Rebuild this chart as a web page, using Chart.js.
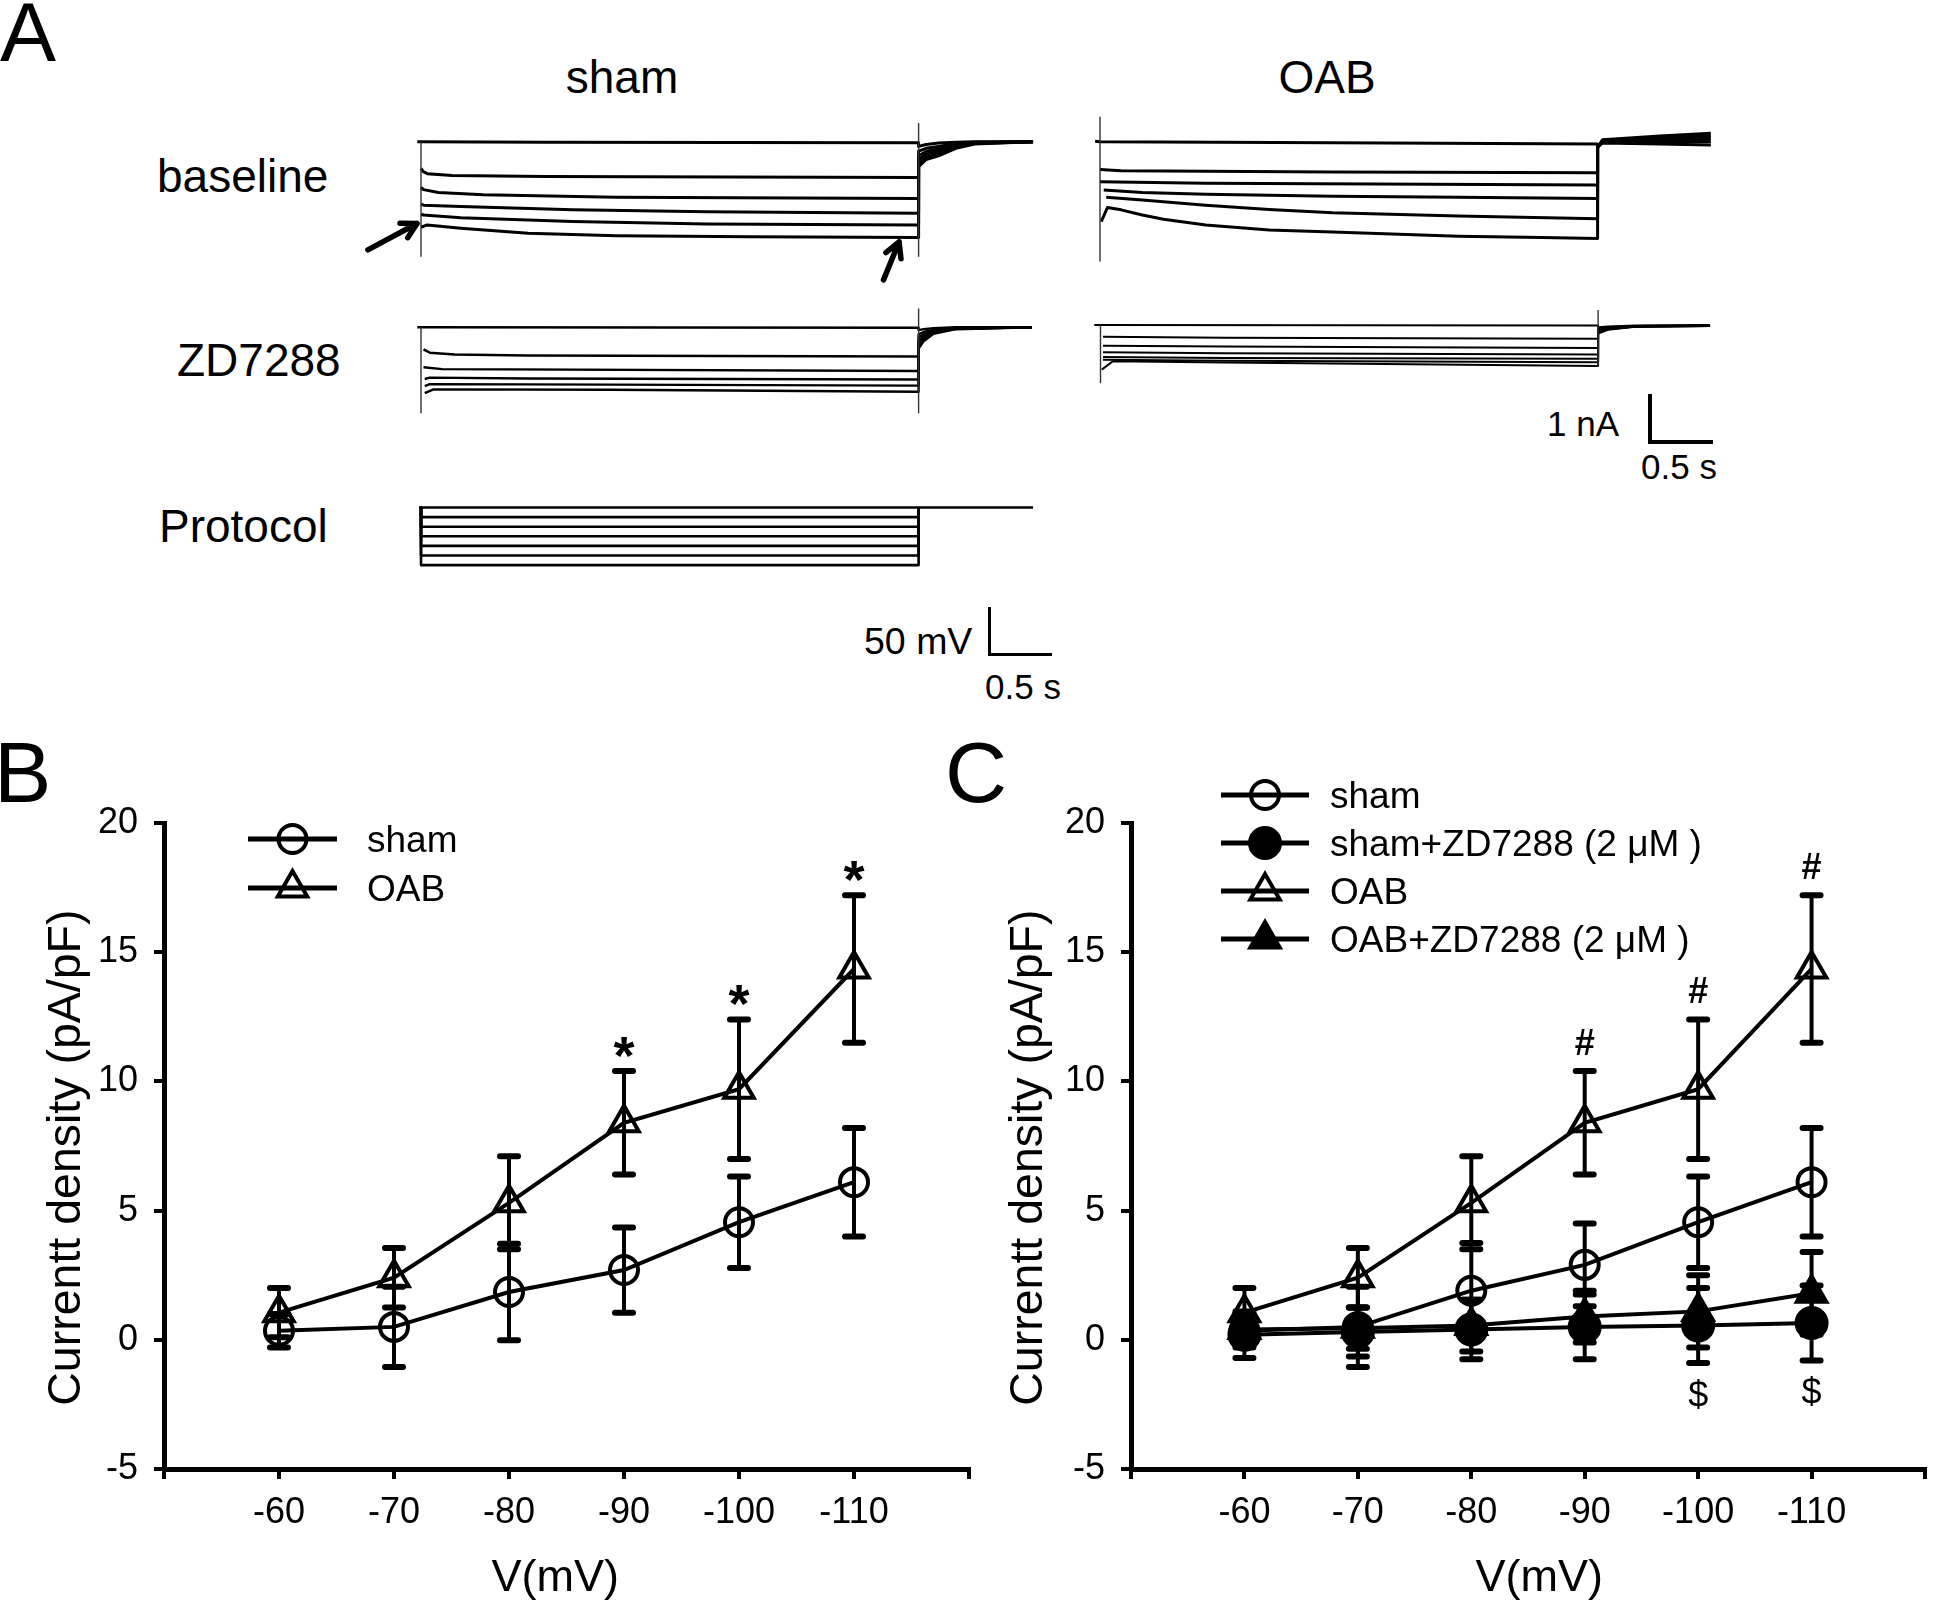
<!DOCTYPE html>
<html><head><meta charset="utf-8">
<script src="https://cdn.jsdelivr.net/npm/chart.js@4.4.1/dist/chart.umd.min.js"></script>
<style>
html,body{margin:0;padding:0;background:#fff;}
#fig{position:relative;width:1946px;height:1603px;overflow:hidden;background:#fff;font-family:'Liberation Sans',Arial,Helvetica,sans-serif;color:#000;}
canvas{position:absolute;}
.lbl{position:absolute;white-space:nowrap;line-height:1;}
.c{transform:translateX(-50%);}
.bar{position:absolute;box-sizing:border-box;border-left:4px solid #000;border-bottom:4px solid #000;}
</style></head><body>
<div id="fig">
  <div class="lbl" style="left:0px;top:-10px;font-size:84px">A</div>
  <div class="lbl" style="left:-6px;top:729px;font-size:86px">B</div>
  <div class="lbl" style="left:945px;top:729px;font-size:86px">C</div>
  <div class="lbl c" style="left:622px;top:54px;font-size:46px">sham</div>
  <div class="lbl c" style="left:1327px;top:54px;font-size:46px">OAB</div>
  <div class="lbl" style="left:157px;top:153px;font-size:46px">baseline</div>
  <div class="lbl" style="left:177px;top:337px;font-size:46px">ZD7288</div>
  <div class="lbl" style="left:159px;top:503px;font-size:46px">Protocol</div>
  <div class="lbl" style="left:1547px;top:406px;font-size:35px">1 nA</div>
  <div class="lbl" style="left:1641px;top:449px;font-size:35px">0.5 s</div>
  <div class="lbl" style="left:864px;top:623px;font-size:37.5px">50 mV</div>
  <div class="lbl" style="left:985px;top:669px;font-size:35px">0.5 s</div>
  <div class="bar" style="left:1648px;top:394px;width:65px;height:50px"></div>
  <div class="bar" style="left:988px;top:607px;width:64px;height:49px;border-left-width:3px;border-bottom-width:3px"></div>

  <canvas id="cShamBase"></canvas>
  <canvas id="cOabBase"></canvas>
  <canvas id="cShamZd"></canvas>
  <canvas id="cOabZd"></canvas>
  <canvas id="cProtocol"></canvas>
  <canvas id="cB"></canvas>
  <canvas id="cC"></canvas>
</div>
<script>
// ================= DATA =================
// Panels B / C : current density (pA/pF) vs step voltage (mV)
const voltages     = [-60, -70, -80, -90, -100, -110];
const xTickValues  = [-50, -60, -70, -80, -90, -100, -110, -120];
const xTickLabels  = ['', '-60', '-70', '-80', '-90', '-100', '-110', ''];
const yTickValues  = [-5, 0, 5, 10, 15, 20];
const yTickLabels  = ['-5', '0', '5', '10', '15', '20'];

const shamMeanB = [0.35, 0.5, 1.85, 2.7, 4.55, 6.1];
const shamSemB  = [0.65, 1.55, 1.87, 1.65, 1.77, 2.1];
const oabMeanB  = [1.05, 2.4, 5.3, 8.4, 9.7, 14.35];
const oabSemB   = [0.95, 1.15, 1.8, 2.0, 2.7, 2.85];
const sigB      = ['', '', '', '*', '*', '*'];

const shamMeanC   = [0.35, 0.5, 1.9, 2.9, 4.55, 6.1];
const shamSemC    = [0.65, 1.55, 1.85, 1.6, 1.77, 2.1];
const shamZdMeanC = [0.2, 0.3, 0.4, 0.5, 0.55, 0.65];
const shamZdSemC  = [0.9, 0.95, 1.15, 1.25, 1.45, 1.45];
const oabMeanC    = [1.05, 2.4, 5.3, 8.4, 9.7, 14.35];
const oabSemC     = [0.95, 1.15, 1.8, 2.0, 2.7, 2.85];
const oabZdMeanC  = [0.4, 0.45, 0.55, 0.9, 1.1, 1.8];
const oabZdSemC   = [0.5, 0.8, 1.0, 1.0, 1.4, 1.6];
const sigCTop     = ['', '', '', '#', '#', '#'];
const sigCBottom  = ['', '', '', '', '$', '$'];

// Panel A : current traces, [time (s) from step onset, current (nA) re. holding]
const shamBaseTrace1 = [[-0.03,0],[1.0,-0.01],[4.0,-0.02],[4.0,-0.1],[4.06,-0.06],[4.16,-0.03],[4.3,-0.01],[4.45,0],[4.92,0]];
const shamBaseTrace2 = [[0,-0.57],[0.02,-0.64],[0.05,-0.68],[0.25,-0.72],[1.0,-0.74],[4.0,-0.76],[4.0,-0.2],[4.06,-0.14],[4.16,-0.1],[4.3,-0.04],[4.45,-0.01],[4.92,0]];
const shamBaseTrace3 = [[0,-0.97],[0.02,-1.02],[0.14,-1.08],[0.5,-1.13],[1.57,-1.18],[4.0,-1.21],[4.0,-0.3],[4.06,-0.21],[4.16,-0.15],[4.3,-0.07],[4.45,-0.02],[4.92,0]];
const shamBaseTrace4 = [[0,-1.33],[0.02,-1.35],[0.32,-1.38],[1.22,-1.45],[2.3,-1.49],[4.0,-1.52],[4.0,-0.38],[4.06,-0.27],[4.16,-0.2],[4.3,-0.1],[4.45,-0.03],[4.92,0]];
const shamBaseTrace5 = [[0,-1.54],[0.02,-1.56],[0.32,-1.62],[1.22,-1.70],[2.3,-1.75],[4.0,-1.77],[4.0,-0.46],[4.06,-0.33],[4.16,-0.25],[4.3,-0.12],[4.45,-0.04],[4.92,0]];
const shamBaseTrace6 = [[0,-1.82],[0.05,-1.77],[0.32,-1.84],[0.86,-1.95],[1.57,-2.0],[2.65,-2.02],[4.0,-2.04],[4.0,-0.53],[4.06,-0.38],[4.16,-0.3],[4.3,-0.14],[4.45,-0.05],[4.92,0]];
const shamBaseTransients = [[[0,0],[0,-2.45]], [[4.0,0.4],[4.0,-2.45]]];
const shamBaseArrows = [{from:[-0.427,-2.30], to:[-0.032,-1.74]}, {from:[3.718,-2.94], to:[3.843,-2.13]}];

const oabBaseTrace1 = [[-0.04,0.01],[0,0],[1.87,-0.02],[4.0,-0.05],[4.0,-0.1],[4.04,-0.03],[4.5,-0.05],[4.91,-0.07]];
const oabBaseTrace2 = [[0,-0.59],[0.17,-0.62],[1.87,-0.645],[4.0,-0.66],[4.0,-0.12],[4.04,-0.01],[4.5,0.0],[4.91,0.0]];
const oabBaseTrace3 = [[0,-0.85],[0.85,-0.885],[4.0,-0.92],[4.0,-0.12],[4.04,0.01],[4.5,0.03],[4.91,0.05]];
const oabBaseTrace4 = [[0.03,-1.03],[0.34,-1.08],[0.85,-1.12],[1.87,-1.16],[2.88,-1.18],[4.0,-1.21],[4.0,-0.12],[4.04,0.02],[4.5,0.06],[4.91,0.09]];
const oabBaseTrace5 = [[0.05,-1.18],[0.34,-1.24],[0.85,-1.35],[1.36,-1.44],[1.87,-1.51],[2.88,-1.58],[4.0,-1.64],[4.0,-0.12],[4.04,0.03],[4.5,0.09],[4.91,0.13]];
const oabBaseTrace6 = [[0.01,-1.7],[0.06,-1.40],[0.17,-1.45],[0.34,-1.56],[0.51,-1.65],[0.85,-1.77],[1.36,-1.88],[1.87,-1.92],[2.88,-2.01],[3.55,-2.04],[4.0,-2.06],[4.0,-0.12],[4.04,0.04],[4.5,0.12],[4.91,0.18]];
const oabBaseTransients = [[[0,0.53],[0,-2.55]]];

const shamZdTrace1 = [[-0.03,0],[4.0,-0.01],[4.0,-0.06],[4.04,-0.04],[4.12,-0.02],[4.3,0],[4.91,0]];
const shamZdTrace2 = [[0.02,-0.47],[0.07,-0.54],[0.27,-0.58],[0.85,-0.60],[4.0,-0.62],[4.0,-0.15],[4.04,-0.1],[4.12,-0.05],[4.3,-0.01],[4.91,0]];
const shamZdTrace3 = [[0.02,-0.85],[0.17,-0.89],[4.0,-0.93],[4.0,-0.22],[4.04,-0.15],[4.12,-0.08],[4.3,-0.02],[4.91,0]];
const shamZdTrace4 = [[0.03,-1.1],[0.07,-1.07],[0.85,-1.09],[4.0,-1.11],[4.0,-0.3],[4.04,-0.2],[4.12,-0.1],[4.3,-0.03],[4.91,0]];
const shamZdTrace5 = [[0.03,-1.25],[0.07,-1.21],[1.52,-1.22],[4.0,-1.24],[4.0,-0.38],[4.04,-0.25],[4.12,-0.12],[4.3,-0.03],[4.91,0]];
const shamZdTrace6 = [[0.03,-1.40],[0.1,-1.32],[1.52,-1.33],[4.0,-1.37],[4.0,-0.45],[4.04,-0.3],[4.12,-0.14],[4.3,-0.04],[4.91,0]];
const shamZdTransients = [[[0,0],[0,-1.83]], [[4.0,0.4],[4.0,-1.83]]];

const oabZdTrace1 = [[-0.05,0],[4.0,-0.01],[4.0,-0.05],[4.08,-0.03],[4.3,-0.01],[4.9,0]];
const oabZdTrace2 = [[0.02,-0.25],[1.0,-0.27],[4.0,-0.29],[4.0,-0.08],[4.08,-0.05],[4.3,-0.02],[4.9,-0.01]];
const oabZdTrace3 = [[0.02,-0.44],[1.0,-0.46],[4.0,-0.49],[4.0,-0.1],[4.08,-0.06],[4.3,-0.02],[4.9,-0.01]];
const oabZdTrace4 = [[0.02,-0.58],[1.0,-0.6],[4.0,-0.63],[4.0,-0.12],[4.08,-0.07],[4.3,-0.03],[4.9,-0.01]];
const oabZdTrace5 = [[0.02,-0.68],[1.0,-0.7],[4.0,-0.72],[4.0,-0.14],[4.08,-0.08],[4.3,-0.03],[4.9,-0.02]];
const oabZdTrace6 = [[0.02,-0.74],[1.0,-0.76],[4.0,-0.79],[4.0,-0.16],[4.08,-0.09],[4.3,-0.03],[4.9,-0.02]];
const oabZdTrace7 = [[0.01,-0.95],[0.1,-0.77],[1.0,-0.8],[4.0,-0.87],[4.0,-0.18],[4.08,-0.1],[4.3,-0.04],[4.9,-0.02]];
const oabZdTransients = [[[0,0],[0,-1.24]], [[4.0,0.32],[4.0,-0.89]]];

// Protocol (mV, s)
const holdingMV   = -50;
const stepMV      = [-60, -70, -80, -90, -100, -110];
const stepEndS    = 4.0;
const sweepStartS = -0.016;
const sweepEndS   = 4.92;

// ================= DRAWING =================
const FONT = "'Liberation Sans', Arial, Helvetica, sans-serif";
Chart.defaults.font.family = FONT;
Chart.defaults.color = '#000';

function drawMarker(ctx, style, r, x, y) {
  ctx.beginPath();
  if (style === 'triangle') {
    let a = 0;
    ctx.moveTo(x + Math.sin(a) * r, y - Math.cos(a) * r);
    a += 2 * Math.PI / 3;
    ctx.lineTo(x + Math.sin(a) * r, y - Math.cos(a) * r);
    a += 2 * Math.PI / 3;
    ctx.lineTo(x + Math.sin(a) * r, y - Math.cos(a) * r);
    ctx.closePath();
  } else {
    ctx.arc(x, y, r, 0, Math.PI * 2);
    ctx.closePath();
  }
}

const arrowPlugin = {
  id: 'arrows',
  afterDatasetsDraw(chart) {
    const arrows = chart.options.plugins.arrows && chart.options.plugins.arrows.list;
    if (!arrows) return;
    const {ctx, scales: {x, y}} = chart;
    ctx.save();
    ctx.strokeStyle = '#000';
    ctx.lineWidth = 5.5;
    ctx.lineCap = 'round';
    ctx.lineJoin = 'round';
    arrows.forEach(a => {
      const x1 = x.getPixelForValue(a.from[0]), y1 = y.getPixelForValue(a.from[1]);
      const x2 = x.getPixelForValue(a.to[0]),   y2 = y.getPixelForValue(a.to[1]);
      const ang = Math.atan2(y2 - y1, x2 - x1);
      const hl = 17, hw = 0.5;
      ctx.beginPath();
      ctx.moveTo(x1, y1); ctx.lineTo(x2, y2);
      ctx.moveTo(x2 - hl * Math.cos(ang - hw), y2 - hl * Math.sin(ang - hw));
      ctx.lineTo(x2, y2);
      ctx.lineTo(x2 - hl * Math.cos(ang + hw), y2 - hl * Math.sin(ang + hw));
      ctx.stroke();
    });
    ctx.restore();
  }
};

function traceBlock(b) {
  const cv = document.getElementById(b.id);
  cv.width = b.W; cv.height = b.H;
  cv.style.left = b.L + 'px'; cv.style.top = b.T + 'px';
  const xMin = (b.L - b.x0) / b.ppuX;
  const xMax = (b.L + b.W - b.x0) / b.ppuX;
  const yMax = b.yRef + (b.y0 - b.T) / b.ppuY;
  const yMin = b.yRef - (b.T + b.H - b.y0) / b.ppuY;
  const datasets = [];
  (b.transients || []).forEach(t => datasets.push({
    data: t.map(([x, y]) => ({x, y})), borderColor: '#333', borderWidth: 1.4,
    pointRadius: 0, tension: 0, fill: false
  }));
  b.traces.forEach(tr => datasets.push({
    data: tr.map(([x, y]) => ({x, y})), borderColor: '#000', borderWidth: b.lw,
    borderJoinStyle: 'round', pointRadius: 0, tension: 0, fill: false
  }));
  new Chart(cv, {
    type: 'line',
    data: {datasets},
    options: {
      responsive: false, animation: false, events: [],
      layout: {padding: 0},
      plugins: {legend: {display: false}, tooltip: {enabled: false}, arrows: {list: b.arrows || null}},
      scales: {
        x: {type: 'linear', display: false, min: xMin, max: xMax},
        y: {type: 'linear', display: false, min: yMin, max: yMax}
      }
    },
    plugins: [arrowPlugin]
  });
}

const PPU_S = 124.4, PPU_NA = 47;
traceBlock({id: 'cShamBase', L: 340, T: 108, W: 720, H: 185, x0: 421, y0: 141.7, yRef: 0, ppuX: PPU_S, ppuY: PPU_NA, lw: 3.0,
  traces: [shamBaseTrace1, shamBaseTrace2, shamBaseTrace3, shamBaseTrace4, shamBaseTrace5, shamBaseTrace6],
  transients: shamBaseTransients, arrows: shamBaseArrows});
traceBlock({id: 'cOabBase', L: 1080, T: 105, W: 650, H: 170, x0: 1100, y0: 141.7, yRef: 0, ppuX: PPU_S, ppuY: PPU_NA, lw: 3.0,
  traces: [oabBaseTrace1, oabBaseTrace2, oabBaseTrace3, oabBaseTrace4, oabBaseTrace5, oabBaseTrace6],
  transients: oabBaseTransients});
traceBlock({id: 'cShamZd', L: 400, T: 300, W: 650, H: 125, x0: 421, y0: 327.3, yRef: 0, ppuX: PPU_S, ppuY: PPU_NA, lw: 2.4,
  traces: [shamZdTrace1, shamZdTrace2, shamZdTrace3, shamZdTrace4, shamZdTrace5, shamZdTrace6],
  transients: shamZdTransients});
traceBlock({id: 'cOabZd', L: 1080, T: 300, W: 650, H: 90, x0: 1100.5, y0: 325, yRef: 0, ppuX: PPU_S, ppuY: PPU_NA, lw: 2.0,
  traces: [oabZdTrace1, oabZdTrace2, oabZdTrace3, oabZdTrace4, oabZdTrace5, oabZdTrace6, oabZdTrace7],
  transients: oabZdTransients});

// protocol: holding line + one rectangle per voltage step
const protocolTraces = [[[sweepStartS, holdingMV], [sweepEndS, holdingMV]]].concat(
  stepMV.map(v => [[0, holdingMV], [0, v], [stepEndS, v], [stepEndS, holdingMV]]));
traceBlock({id: 'cProtocol', L: 400, T: 495, W: 650, H: 80, x0: 421, y0: 507.5, yRef: holdingMV, ppuX: PPU_S, ppuY: 0.96, lw: 2.6,
  traces: protocolTraces});

// ---------- I-V charts ----------
const errorBarPlugin = {
  id: 'errorBars',
  beforeDatasetsDraw(chart) {
    const {ctx, scales: {x, y}} = chart;
    ctx.save();
    ctx.strokeStyle = '#000';
    chart.data.datasets.forEach(ds => {
      if (!ds.errors) return;
      ds.data.forEach((p, i) => {
        const e = ds.errors[i];
        const px = x.getPixelForValue(p.x);
        const yt = y.getPixelForValue(p.y + e), yb = y.getPixelForValue(p.y - e);
        ctx.lineWidth = 4; ctx.lineCap = 'butt';
        ctx.beginPath(); ctx.moveTo(px, yt); ctx.lineTo(px, yb); ctx.stroke();
        ctx.lineWidth = 6; ctx.lineCap = 'round';
        ctx.beginPath();
        ctx.moveTo(px - 9, yt); ctx.lineTo(px + 9, yt);
        ctx.moveTo(px - 9, yb); ctx.lineTo(px + 9, yb);
        ctx.stroke();
      });
    });
    ctx.restore();
  }
};

const keyPlugin = {
  id: 'keyLegend',
  afterDraw(chart) {
    const o = chart.options.plugins.keyLegend;
    if (!o) return;
    const ctx = chart.ctx;
    ctx.save();
    chart.data.datasets.forEach((ds, i) => {
      const yy = o.rows[i];
      ctx.strokeStyle = '#000'; ctx.lineWidth = 5; ctx.lineCap = 'butt';
      ctx.beginPath(); ctx.moveTo(o.x1, yy); ctx.lineTo(o.x2, yy); ctx.stroke();
      ctx.lineWidth = 4;
      ctx.fillStyle = ds.pointBackgroundColor;
      drawMarker(ctx, ds.pointStyle, ds.pointRadius, (o.x1 + o.x2) / 2, yy);
      ctx.fill(); ctx.stroke();
      ctx.fillStyle = '#000';
      ctx.font = '37px ' + FONT;
      ctx.textAlign = 'left'; ctx.textBaseline = 'alphabetic';
      ctx.fillText(ds.label, o.textX, yy + 13);
    });
    ctx.restore();
  }
};

const sigPlugin = {
  id: 'sigMarks',
  afterDraw(chart) {
    const list = chart.options.plugins.sigMarks && chart.options.plugins.sigMarks.list;
    if (!list) return;
    const {ctx, scales: {x, y}} = chart;
    ctx.save();
    ctx.fillStyle = '#000'; ctx.textAlign = 'center'; ctx.textBaseline = 'alphabetic';
    list.forEach(m => {
      const ds = chart.data.datasets.find(d => d.label === m.ref);
      m.marks.forEach((s, i) => {
        if (!s) return;
        const p = ds.data[i];
        const v = m.side === 'top' ? p.y + ds.errors[i] : p.y - ds.errors[i];
        ctx.font = m.font;
        ctx.fillText(s, x.getPixelForValue(p.x), y.getPixelForValue(v) + m.dy);
      });
    });
    ctx.restore();
  }
};

function series(label, means, errs, style, filled) {
  return {
    label,
    data: voltages.map((v, i) => ({x: v, y: means[i]})),
    errors: errs,
    borderColor: '#000', borderWidth: 4, tension: 0, fill: false, clip: false,
    pointStyle: style, pointRadius: style === 'triangle' ? 17 : (filled ? 15 : 14),
    pointBorderWidth: 4, pointBorderColor: '#000',
    pointBackgroundColor: filled ? '#000' : 'rgba(0,0,0,0)'
  };
}

function ivChart(cfg) {
  const cv = document.getElementById(cfg.id);
  cv.width = cfg.W; cv.height = cfg.H;
  cv.style.left = cfg.L + 'px'; cv.style.top = cfg.T + 'px';
  const gridOpts = {display: true, drawOnChartArea: false, drawTicks: true, tickLength: 10, tickWidth: 4, lineWidth: 4, tickColor: '#000', color: '#000'};
  const borderOpts = {display: true, width: 5, color: '#000'};
  new Chart(cv, {
    type: 'line',
    data: {datasets: cfg.datasets},
    options: {
      responsive: false, animation: false, events: [],
      layout: {padding: {left: 0, top: cfg.padTop, right: cfg.padRight, bottom: 0}},
      plugins: {
        legend: {display: false}, tooltip: {enabled: false},
        keyLegend: cfg.key,
        sigMarks: {list: cfg.sig}
      },
      scales: {
        x: {
          type: 'linear', reverse: true, min: -120, max: -50,
          afterBuildTicks: s => { s.ticks = xTickValues.map(v => ({value: v})); },
          afterFit: s => { s.height = cfg.xAxisH; },
          ticks: {autoSkip: false, maxRotation: 0, minRotation: 0, padding: 12, color: '#000',
                  font: {size: 36}, callback: v => xTickLabels[xTickValues.indexOf(v)]},
          grid: gridOpts, border: borderOpts,
          title: {display: true, text: cfg.xTitle, color: '#000', font: {size: 45, lineHeight: 1.2}, padding: {top: 0, bottom: -3}}
        },
        y: {
          type: 'linear', min: -5, max: 20,
          afterBuildTicks: s => { s.ticks = yTickValues.map(v => ({value: v})); },
          afterFit: s => { s.width = cfg.yAxisW; },
          ticks: {padding: 16, color: '#000', font: {size: 36}, callback: v => yTickLabels[yTickValues.indexOf(v)]},
          grid: gridOpts, border: borderOpts,
          title: {display: true, text: 'Currentt density (pA/pF)\u2002', color: '#000', font: {size: 46.5, lineHeight: 1.2}, padding: {top: cfg.titlePad, bottom: 0}}
        }
      }
    },
    plugins: [errorBarPlugin, keyPlugin, sigPlugin]
  });
}

ivChart({
  id: 'cB', L: 0, T: 760, W: 990, H: 843, padTop: 63, padRight: 19, yAxisW: 164, xAxisH: 134, titlePad: 39,
  xTitle: 'V(mV)\u2002',
  datasets: [series('sham', shamMeanB, shamSemB, 'circle', false), series('OAB', oabMeanB, oabSemB, 'triangle', false)],
  key: {x1: 248, x2: 337, textX: 367, rows: [79, 128]},
  sig: [{ref: 'OAB', side: 'top', marks: sigB, font: 'bold 54px ' + FONT, dy: 3}]
});

ivChart({
  id: 'cC', L: 960, T: 760, W: 986, H: 843, padTop: 63, padRight: 4, yAxisW: 171, xAxisH: 134, titlePad: 41,
  xTitle: '\u2002V(mV)',
  datasets: [
    series('sham', shamMeanC, shamSemC, 'circle', false),
    series('sham+ZD7288 (2 μM )', shamZdMeanC, shamZdSemC, 'circle', true),
    series('OAB', oabMeanC, oabSemC, 'triangle', false),
    series('OAB+ZD7288 (2 μM )', oabZdMeanC, oabZdSemC, 'triangle', true)
  ],
  key: {x1: 261, x2: 349, textX: 370, rows: [35, 83, 131, 179]},
  sig: [
    {ref: 'OAB', side: 'top', marks: sigCTop, font: 'bold 36px ' + FONT, dy: -16},
    {ref: 'sham+ZD7288 (2 μM )', side: 'bottom', marks: sigCBottom, font: '36px ' + FONT, dy: 44}
  ]
});
</script>
</body></html>
